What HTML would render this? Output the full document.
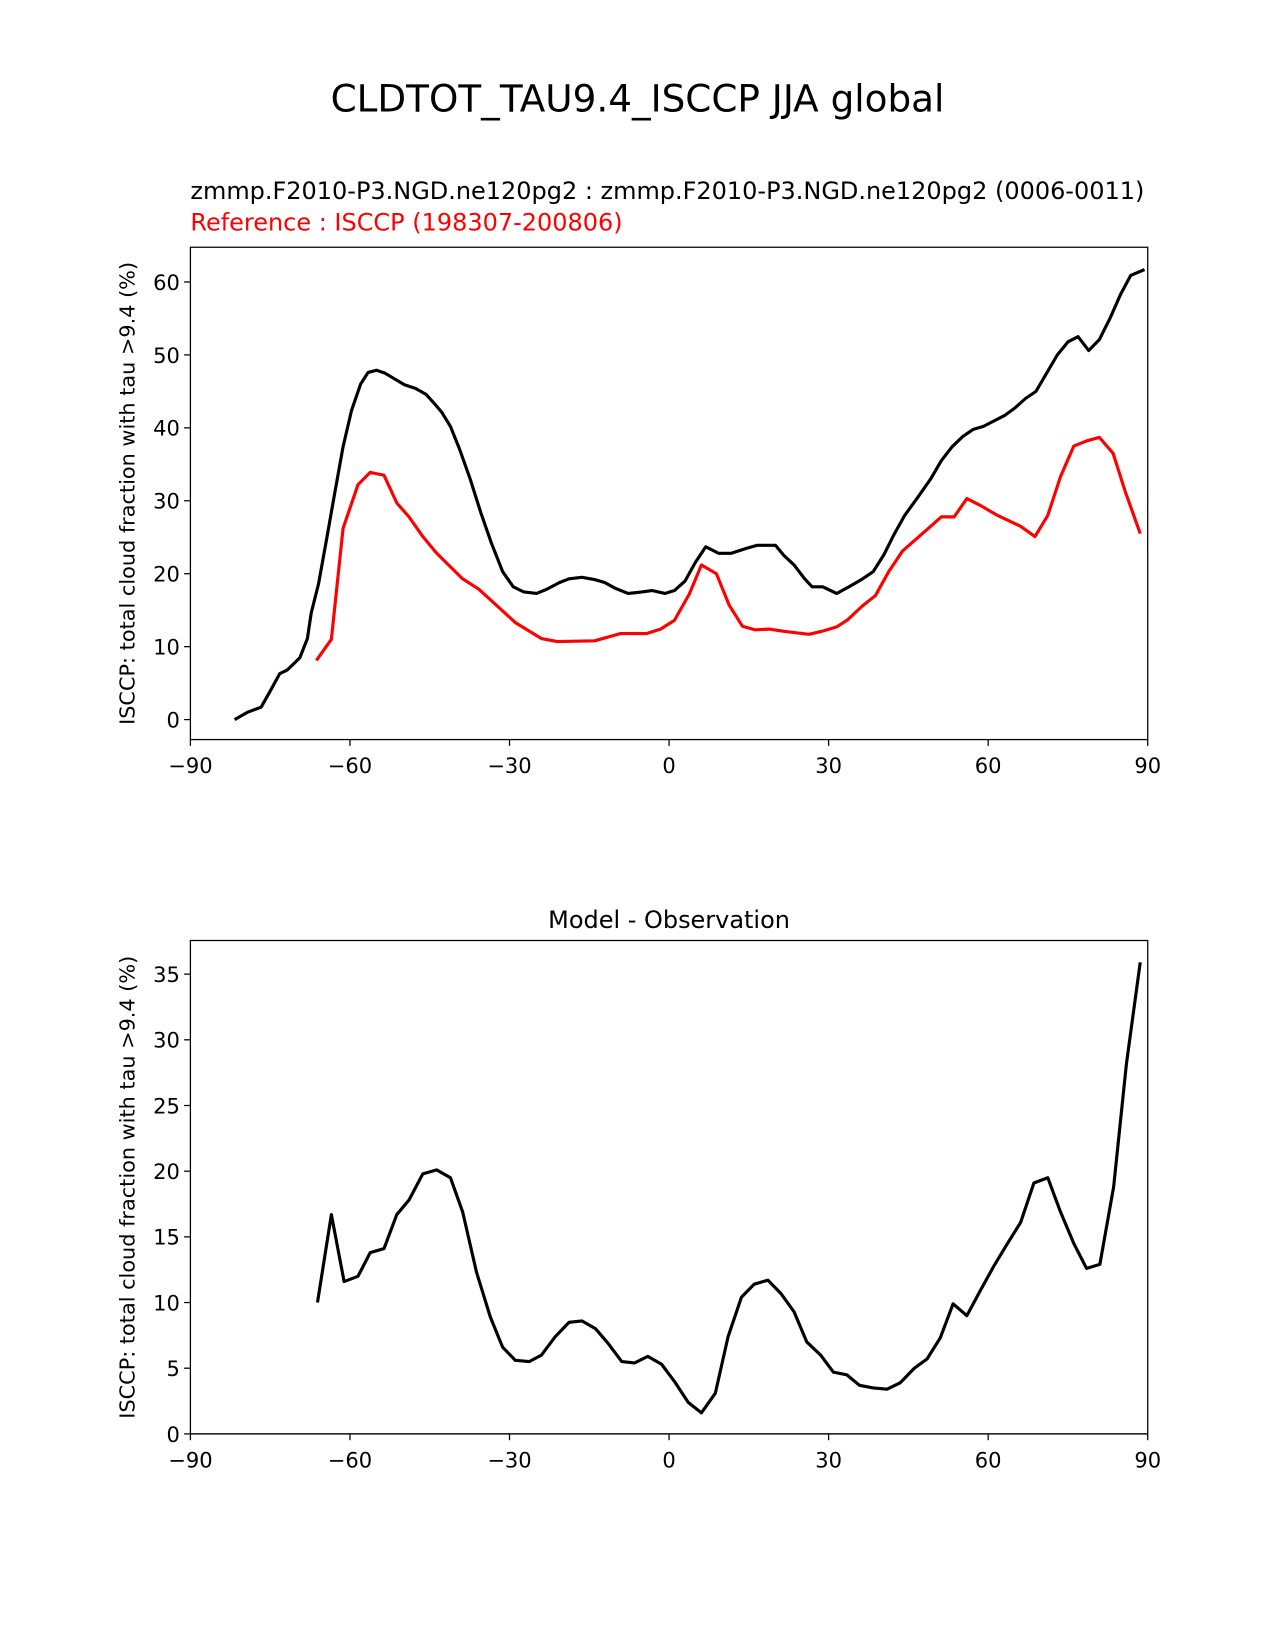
<!DOCTYPE html>
<html><head><meta charset="utf-8"><style>
body{margin:0;background:#fff}
svg{display:block;font-family:"DejaVu Sans","Liberation Sans",sans-serif}
</style></head><body>
<svg id="fig" width="1275" height="1650" viewBox="0 0 1212 1568.4">
<text x="606" y="106" font-size="35.5" text-anchor="middle">CLDTOT_TAU9.4_ISCCP JJA global</text>
<text x="181" y="189" font-size="22.8">zmmp.F2010-P3.NGD.ne120pg2 : zmmp.F2010-P3.NGD.ne120pg2 (0006-0011)</text>
<text x="181" y="219" font-size="22.8" fill="#ff0000">Reference : ISCCP (198307-200806)</text>
<text x="636" y="882" font-size="22.8" text-anchor="middle">Model - Observation</text>
<g id="top"></g>
<g id="bot"></g>
</svg>
<script>
const modelLat=[-81.7,-79.3,-76.7,-75,-73.2,-71.8,-70.8,-69.4,-68,-67.3,-65.9,-64.3,-62.9,-61.3,-59.7,-58,-56.6,-55,-53.4,-51.6,-49.7,-47.7,-45.7,-44.1,-42.7,-41.1,-39.4,-37.4,-35.4,-33.4,-31.3,-29.3,-27.3,-24.9,-22.9,-20.6,-18.8,-16.4,-14,-12.1,-10.1,-7.7,-5.1,-3.2,-0.8,1,3,4.9,6.9,9.3,11.7,14.6,16.6,18.6,20,21.6,23.5,25.5,26.9,28.9,31.5,33.8,36.4,38.4,40.4,42.3,44.3,46.7,49.2,51.2,53.2,55.2,57.2,59.1,60.7,63.1,65,67,69,71,73,75,76.9,78.9,80.9,82.9,84.9,86.8,89.4];
const modelVal=[0,1,1.7,3.9,6.3,6.8,7.5,8.5,11.1,14.6,18.6,25.1,30.9,37.4,42.4,46,47.6,47.9,47.5,46.7,45.9,45.4,44.6,43.3,42.1,40.2,37.1,33,28.4,24.2,20.3,18.2,17.5,17.3,17.9,18.8,19.3,19.5,19.2,18.8,18,17.3,17.5,17.7,17.3,17.7,19,21.5,23.7,22.8,22.8,23.5,23.9,23.9,23.9,22.5,21.2,19.3,18.2,18.2,17.3,18.2,19.3,20.3,22.6,25.4,28,30.4,33,35.5,37.4,38.8,39.8,40.2,40.8,41.7,42.7,44,45,47.5,50,51.8,52.5,50.6,52.1,55,58.3,60.9,61.7];
const refLat=[-66.3,-63.5,-61.3,-58.5,-56.2,-53.6,-51.2,-48.9,-46.3,-43.7,-38.8,-35.8,-28.9,-24,-21,-14,-9.1,-4.2,-1.6,1,3.8,6.1,8.9,11.3,13.8,16.2,18.8,21.6,26.3,28.7,31.5,33.6,36.4,38.8,41.3,43.9,49.2,51.2,53.6,56,58.7,61.5,66.1,68.8,71.2,73.6,76.1,78.5,80.9,83.5,85.8,88.6];
const refVal=[8.1,11,26.2,32.2,33.9,33.5,29.7,27.8,25.1,22.8,19.3,17.9,13.3,11.1,10.7,10.8,11.8,11.8,12.4,13.6,17.2,21.2,20,15.7,12.8,12.3,12.4,12.1,11.7,12.1,12.7,13.7,15.6,17,20.3,23.1,26.5,27.8,27.8,30.3,29.3,28.1,26.5,25.1,28,33.3,37.5,38.2,38.7,36.5,31.2,25.5];
const diffLat=[-66.1,-63.5,-61.1,-58.5,-56.2,-53.6,-51.2,-48.9,-46.3,-43.7,-41.1,-38.8,-36.2,-33.6,-31.3,-28.9,-26.3,-24,-21.4,-18.8,-16.4,-13.8,-11.5,-8.9,-6.5,-4,-1.4,1,3.6,6.1,8.7,11.1,13.6,16,18.6,21,23.5,25.9,28.5,30.9,33.4,35.8,38.4,41,43.5,46.1,48.5,51,53.4,56,58.5,61.1,63.5,66.1,68.6,71.2,73.6,76.1,78.5,81,83.6,86,88.6];
const diffVal=[10,16.7,11.6,12,13.8,14.1,16.7,17.8,19.8,20.1,19.5,16.9,12.3,8.9,6.6,5.6,5.5,6,7.4,8.5,8.6,8,6.9,5.5,5.4,5.9,5.3,4,2.4,1.6,3.1,7.4,10.4,11.4,11.7,10.7,9.3,7,6,4.7,4.5,3.7,3.5,3.4,3.9,5,5.7,7.3,9.9,9,10.9,12.8,14.4,16.1,19.1,19.5,16.9,14.5,12.6,12.9,18.8,28.2,35.9];
const xTicks=[-90,-60,-30,0,30,60,90];
const topYTicks=[0,10,20,30,40,50,60];
const botYTicks=[0,5,10,15,20,25,30,35];
const NS='http://www.w3.org/2000/svg';
function mk(p,t,a){const e=document.createElementNS(NS,t);for(const k in a)e.setAttribute(k,a[k]);p.appendChild(e);return e;}
function panel(g,top,bot,ymin,ymax,yTicks,series,zeroLine){
  const L=181,R=1091;
  const sx=v=>L+(v+90)/180*(R-L);
  const sy=v=>bot-(v-ymin)/(ymax-ymin)*(bot-top);
  if(zeroLine){const z=mk(g,'line',{x1:L,x2:R,y1:sy(0),y2:sy(0),stroke:'#888','stroke-width':1.5});
    
    }
  series.forEach(s=>{
    const d=s.x.map((v,i)=>(i?'L':'M')+sx(v).toFixed(1)+','+sy(s.y[i]).toFixed(1)).join('');
    const p=mk(g,'path',{d:d,fill:'none',stroke:s.c,'stroke-width':3,'stroke-linejoin':'round'});
    
    
  });
  const fr=mk(g,'rect',{x:L,y:top,width:R-L,height:bot-top,fill:'none',stroke:'#000','stroke-width':1.2});
  
  
  xTicks.forEach(t=>{
    mk(g,'line',{x1:sx(t),x2:sx(t),y1:bot,y2:bot+6,stroke:'#000','stroke-width':1.2});
    const tx=mk(g,'text',{x:sx(t),y:bot+32,'font-size':20,'text-anchor':'middle'});
    tx.textContent=t<0?'\u2212'+(-t):String(t);
    
    
  });
  yTicks.forEach(t=>{
    mk(g,'line',{x1:L-6,x2:L,y1:sy(t),y2:sy(t),stroke:'#000','stroke-width':1.2});
    const tx=mk(g,'text',{x:L-10,y:sy(t)+7.5,'font-size':20,'text-anchor':'end'});
    tx.textContent=String(t);
    
    
  });
  const cy=(top+bot)/2;
  const yl=mk(g,'text',{x:0,y:0,'font-size':19.8,'text-anchor':'middle',transform:'translate(128,'+cy+') rotate(-90)'});
  yl.textContent='ISCCP: total cloud fraction with tau >9.4 (%)';
  
  
}
panel(document.getElementById('top'),235,703,-2.74,64.76,topYTicks,
  [{x:refLat,y:refVal,c:'#ff0000',n:'reference-line'},{x:modelLat,y:modelVal,c:'#000',n:'model-line'}],false);
panel(document.getElementById('bot'),894,1363,0,37.56,botYTicks,
  [{x:diffLat,y:diffVal,c:'#000',n:'diff-line'}],true);
</script>
</body></html>
